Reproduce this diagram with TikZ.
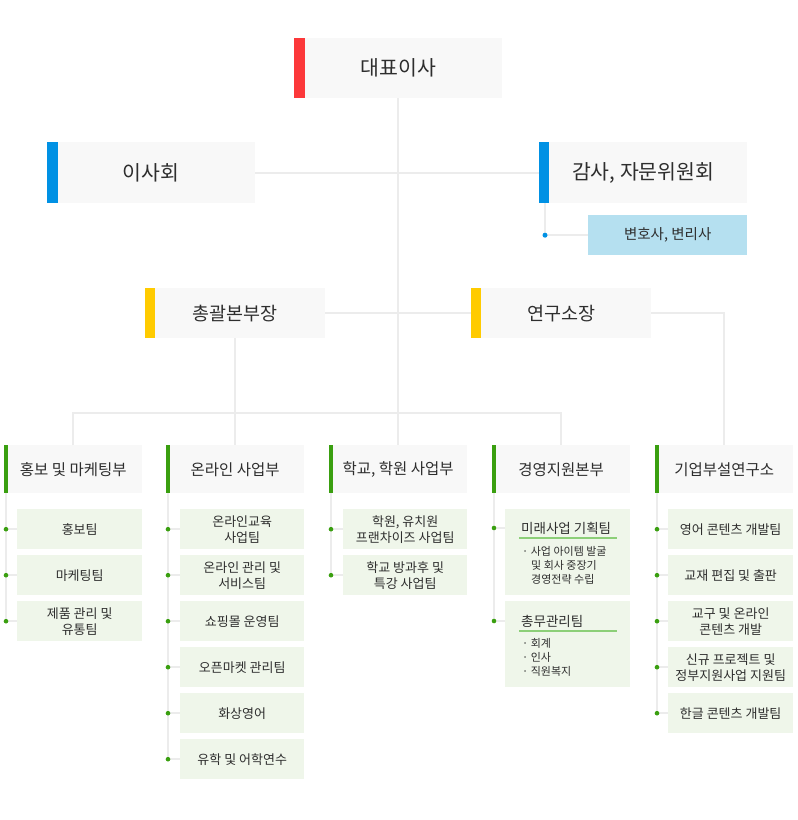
\documentclass[tikz,border=0pt]{standalone}
\usepackage{fontspec}
\setmainfont{Noto Sans CJK KR}
\usetikzlibrary{calc}
\definecolor{boxgray}{HTML}{F8F8F8}
\definecolor{subgreen}{HTML}{EFF6EA}
\definecolor{lightblue}{HTML}{B5E0F0}
\definecolor{barred}{HTML}{FC383A}
\definecolor{barblue}{HTML}{0091E4}
\definecolor{baryellow}{HTML}{FFCB00}
\definecolor{bargreen}{HTML}{3A9F10}
\definecolor{ulgreen}{HTML}{8CCF78}
\definecolor{linegray}{HTML}{ECECEC}
\definecolor{txt}{HTML}{2E2E2E}
\newcommand{\colconn}[3]{%
  \coordinate (t#1) at ($(#1.south west)+(2,0)$);
  \foreach \s in {#2} {
    \coordinate (d\s) at (t#1 |- \s.west);
    \draw[conn] (d\s) -- (\s.west);
  }
  \draw[conn] (t#1) -- (t#1 |- #3.west);
  \foreach \s in {#2} { \fill[bargreen] (d\s) circle[radius=2.3pt]; }
}
\begin{document}
\begin{tikzpicture}[x=1pt,y=-1pt,
  box/.style={fill=boxgray, inner sep=0pt, anchor=north west, text=txt, align=center},
  top/.style={box, minimum width=208pt, minimum height=61pt, font=\fontsize{20.5}{24}\selectfont},
  mid/.style={box, minimum width=180pt, minimum height=50pt, font=\fontsize{18.5}{22}\selectfont},
  head/.style={box, minimum width=138pt, minimum height=48pt, font=\fontsize{15.5}{18}\selectfont},
  subbox/.style={fill=subgreen, inner sep=0pt, anchor=north west, text=txt, align=center,
    minimum width=125pt, minimum height=40pt, font=\fontsize{13}{16}\selectfont},
  conn/.style={draw=linegray, line width=1.8pt},
  small/.style={inner sep=0pt, anchor=west, text=txt, font=\fontsize{11}{14}\selectfont},
  ttl/.style={inner sep=0pt, anchor=west, text=txt, font=\fontsize{13.5}{16}\selectfont}
]
\useasboundingbox (0,0) rectangle (798,820);
\fill[white] (0,0) rectangle (798,820);

% ---------- boxes ----------
\node[top, minimum height=60pt] (ceo) at (294,38) {대표이사};
\node[top] (board) at (47,142) {이사회};
\node[top] (audit) at (539,142) {감사, 자문위원회};
\node[fill=lightblue, inner sep=0pt, anchor=north west, minimum width=159pt, minimum height=40pt,
  text=txt, font=\fontsize{14.5}{18}\selectfont] (lawyer) at (588,215) {변호사, 변리사};
\node[mid] (gm) at (145,288) {총괄본부장};
\node[mid] (lab) at (471,288) {연구소장};

\node[head] (mkt) at (4,445) {홍보 및 마케팅부};
\node[head] (online) at (166,445) {온라인 사업부};
\node[head] (school) at (329,445) {학교, 학원 사업부};
\node[head] (mgmt) at (492,445) {경영지원본부};
\node[head] (rnd) at (655,445) {기업부설연구소};

% bars
\fill[barred] (ceo.north west) rectangle ($(ceo.south west)+(11,0)$);
\fill[barblue] (board.north west) rectangle ($(board.south west)+(11,0)$);
\fill[barblue] (audit.north west) rectangle ($(audit.south west)+(10,0)$);
\fill[baryellow] (gm.north west) rectangle ($(gm.south west)+(10,0)$);
\fill[baryellow] (lab.north west) rectangle ($(lab.south west)+(10,0)$);
\foreach \n in {mkt,online,school,mgmt,rnd}
  \fill[bargreen] (\n.north west) rectangle ($(\n.south west)+(4,0)$);

% sub boxes
\node[subbox] (m1) at (17,509) {홍보팀};
\node[subbox] (m2) at (17,555) {마케팅팀};
\node[subbox] (m3) at (17,601) {제품 관리 및\\유통팀};

\node[subbox, minimum width=124pt] (o1) at (180,509) {온라인교육\\사업팀};
\node[subbox, minimum width=124pt] (o2) at (180,555) {온라인 관리 및\\서비스팀};
\node[subbox, minimum width=124pt] (o3) at (180,601) {쇼핑몰 운영팀};
\node[subbox, minimum width=124pt] (o4) at (180,647) {오픈마켓 관리팀};
\node[subbox, minimum width=124pt] (o5) at (180,693) {화상영어};
\node[subbox, minimum width=124pt] (o6) at (180,739) {유학 및 어학연수};

\node[subbox, minimum width=124pt] (s1) at (343,509) {학원, 유치원\\프랜차이즈 사업팀};
\node[subbox, minimum width=124pt] (s2) at (343,555) {학교 방과후 및\\특강 사업팀};

\node[subbox, minimum height=86pt] (g1) at (505,509) {};
\node[subbox, minimum height=86pt] (g2) at (505,601) {};

\node[subbox] (r1) at (668,509) {영어 콘텐츠 개발팀};
\node[subbox] (r2) at (668,555) {교재 편집 및 출판};
\node[subbox] (r3) at (668,601) {교구 및 온라인\\콘텐츠 개발};
\node[subbox] (r4) at (668,647) {신규 프로젝트 및\\정부지원사업 지원팀};
\node[subbox] (r5) at (668,693) {한글 콘텐츠 개발팀};

% texts inside management boxes
\node[ttl] (g1t) at (521,528) {미래사업 기획팀};
\draw[ulgreen, line width=1.5pt] (519,538) -- (617,538);
\node[small] (g1a) at (522,551) {·\ 사업 아이템 발굴};
\node[small] (g1b) at (531,565) {및 회사 중장기};
\node[small] (g1c) at (531,579) {경영전략 수립};

\node[ttl] (g2t) at (521,621) {총무관리팀};
\draw[ulgreen, line width=1.5pt] (519,631) -- (617,631);
\node[small] (g2a) at (522,643) {·\ 회계};
\node[small] (g2b) at (522,657) {·\ 인사};
\node[small] (g2c) at (522,671) {·\ 직원복지};

% ---------- connectors ----------
\draw[conn] (ceo.south) -- (school.north);
\draw[conn] (board.east) -- (audit.west);
\draw[conn] (gm.east) -- (lab.west);
\draw[conn] (lab.east) -| (rnd.north);
\draw[conn] (gm.south) -- (online.north);
\draw[conn] (mkt.north) -- ++(0,-32) -| (mgmt.north);

% audit -> lawyer
\coordinate (ac) at ($(audit.south west)+(6,0)$);
\coordinate (ad) at (ac |- lawyer.west);
\draw[conn] (ac) -- (ad) -- (lawyer.west);
\fill[barblue] (ad) circle[radius=2.5pt];

% column trees
\colconn{mkt}{m1,m2,m3}{m3}
\colconn{online}{o1,o2,o3,o4,o5,o6}{o6}
\colconn{school}{s1,s2}{s2}
\colconn{rnd}{r1,r2,r3,r4,r5}{r5}

% management column (dots aligned with titles)
\coordinate (tmg) at ($(mgmt.south west)+(2,0)$);
\coordinate (dg1) at (tmg |- g1t.west);
\coordinate (dg2) at (tmg |- g2t.west);
\draw[conn] (tmg) -- (dg2);
\draw[conn] (dg1) -- (dg1 -| g1.west);
\draw[conn] (dg2) -- (dg2 -| g2.west);
\fill[bargreen] (dg1) circle[radius=2.3pt];
\fill[bargreen] (dg2) circle[radius=2.3pt];
\end{tikzpicture}
\end{document}
